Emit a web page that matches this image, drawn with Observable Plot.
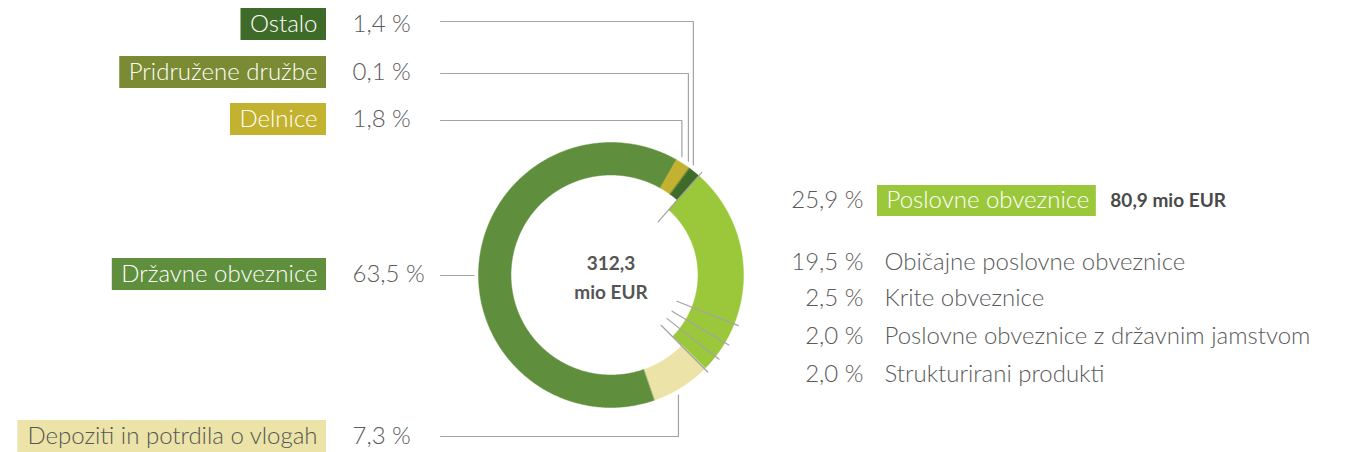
<!DOCTYPE html>
<html>
<head>
<meta charset="utf-8">
<script src="https://cdn.jsdelivr.net/npm/d3@7"></script>
<script src="https://cdn.jsdelivr.net/npm/@observablehq/plot@0.6"></script>
<style>
  html, body { margin: 0; padding: 0; background: #fff; }
  #chart svg { display: block; }
</style>
</head>
<body>
<div id="chart"></div>
<script>
// ---------- DATA ----------
const categories = ["Poslovne obveznice", "Depoziti in potrdila o vlogah", "Državne obveznice", "Delnice", "Pridružene družbe", "Ostalo"];
const shares = [25.9, 7.3, 63.5, 1.8, 0.1, 1.4];
const colors = ["#9bc83b", "#ebe3a7", "#5f8f3d", "#c3b22f", "#7a8b34", "#3f6b28"];
const subCategories = ["Običajne poslovne obveznice", "Krite obveznice", "Poslovne obveznice z državnim jamstvom", "Strukturirani produkti"];
const subShares = [19.5, 2.5, 2.0, 2.0];
const totalLabel = ["312,3", "mio EUR"];
const poslovneAmount = "80,9 mio EUR";

// ---------- LAYOUT ----------
const W = 1347, H = 452;
const cx = 610.5, cy = 274.5, R = 132.5, rIn = 100, rInHighlight = 87;
const startDeg = 41.5;
const FONT = "Lato";
const textGray = "#5a5a5a";
const lineGray = "#a3a3a3";
const leftRows = {
  "Ostalo": 24, "Pridružene družbe": 72, "Delnice": 119,
  "Državne obveznice": 274, "Depoziti in potrdila o vlogah": 436
};
const rightRows = [262, 298, 336, 374];

const fmt = v => v.toFixed(1).replace(".", ",") + " %";
const ctx = document.createElement("canvas").getContext("2d");
const measure = (t, size, weight) => { ctx.font = `${weight} ${size}px ${FONT}`; return ctx.measureText(t).width; };
const rad = d => d * Math.PI / 180;
const pt = (deg, r) => [cx + r * Math.sin(rad(deg)), cy - r * Math.cos(rad(deg))];

// slice angles from the data
const pie = d3.pie().sort(null).value(d => d.share)
  .startAngle(rad(startDeg)).endAngle(rad(startDeg + 360));
const slices = pie(categories.map((c, i) => ({name: c, share: shares[i], color: colors[i]})))
  .map(s => ({...s, a0: s.startAngle * 180 / Math.PI, a1: s.endAngle * 180 / Math.PI}));

// arc polygons
const arcPts = [];
slices.forEach((s, i) => {
  const ri = i === 0 ? rInHighlight : rIn;
  const n = Math.max(4, Math.ceil((s.a1 - s.a0) * 2));
  for (let k = 0; k <= n; k++) { const a = s.a0 + (s.a1 - s.a0) * k / n; const [x, y] = pt(a, R); arcPts.push({slice: s.data.name, color: s.data.color, x, y}); }
  for (let k = n; k >= 0; k--) { const a = s.a0 + (s.a1 - s.a0) * k / n; const [x, y] = pt(a, ri); arcPts.push({slice: s.data.name, color: s.data.color, x, y}); }
});

// radial separators inside Poslovne obveznice
const pos = slices[0];
const degPerPct = (pos.a1 - pos.a0) / pos.data.share;
const sepAngles = [pos.a0];
let cum = 0;
subShares.forEach(v => { cum += v; sepAngles.push(pos.a0 + cum * degPerPct); });
const sepPts = [];
sepAngles.forEach((a, i) => { [71, 137].forEach(r => { const [x, y] = pt(a, r); sepPts.push({id: "s" + i, x, y}); }); });

// leader lines for left labels
const leaderPts = [];
const lx0 = 440;
slices.slice(1).forEach(s => {
  const name = s.data.name, y = leftRows[name] + (name === "Ostalo" ? -3 : 1);
  const mid = (s.a0 + s.a1) / 2;
  const [mx, my] = pt(mid, R);
  if (name === "Državne obveznice") {
    leaderPts.push({id: name, x: lx0, y}, {id: name, x: mx - 5, y});
  } else if (name === "Depoziti in potrdila o vlogah") {
    leaderPts.push({id: name, x: lx0, y: y - 1}, {id: name, x: mx - 3, y: y - 1}, {id: name, x: mx - 3, y: my + 8});
  } else {
    leaderPts.push({id: name, x: lx0, y}, {id: name, x: mx - 1, y}, {id: name, x: mx - 1, y: my - 7});
  }
});

// left labels (boxes + text)
const LS = 24;
const leftLabels = slices.slice(1).map(s => {
  const name = s.data.name, y = leftRows[name];
  const w = measure(name, LS, 300);
  const tx = 317;
  return {name, y, tx, x1: tx - w - 9, x2: 326, color: s.data.color,
          textColor: name.startsWith("Depoziti") ? "#555" : "#fff", pct: fmt(s.data.share)};
});

// right label
const posW = measure(categories[0], LS, 300);
const posBox = {x1: 877, x2: 886 + posW + 7, y: 200};

const subRows = subCategories.map((c, i) => ({name: c, pct: fmt(subShares[i]), y: rightRows[i]}));

const plot = Plot.plot({
  width: W, height: H,
  margin: 0,
  x: {domain: [0, W], range: [0, W], axis: null},
  y: {domain: [0, H], range: [0, H], axis: null},
  style: {fontFamily: FONT, background: "#fff"},
  marks: [
    Plot.line(arcPts, {x: "x", y: "y", z: "slice", fill: "color", stroke: "color", strokeWidth: 0.5, curve: "linear-closed"}),
    Plot.line(sepPts, {x: "x", y: "y", z: "id", stroke: lineGray, strokeWidth: 1.2}),
    Plot.line(leaderPts, {x: "x", y: "y", z: "id", stroke: lineGray, strokeWidth: 1.2}),
    Plot.rect(leftLabels, {x1: "x1", x2: "x2", y1: d => d.y - 16, y2: d => d.y + 16, fill: "color"}),
    Plot.text(leftLabels, {x: "tx", y: "y", text: "name", fill: "textColor", textAnchor: "end", fontSize: LS, fontWeight: 300}),
    Plot.text(leftLabels, {x: 352, y: "y", text: "pct", fill: textGray, textAnchor: "start", fontSize: LS, fontWeight: 300}),
    Plot.rect([posBox], {x1: "x1", x2: "x2", y1: d => d.y - 15, y2: d => d.y + 16, fill: colors[0]}),
    Plot.text([posBox], {x: 886, y: "y", text: () => categories[0], fill: "#fff", textAnchor: "start", fontSize: LS, fontWeight: 300}),
    Plot.text([posBox], {x: 863, y: "y", text: () => fmt(shares[0]), fill: textGray, textAnchor: "end", fontSize: LS, fontWeight: 300}),
    Plot.text([posBox], {x: d => d.x2 + 14, y: "y", text: () => poslovneAmount, fill: "#4a4a4a", textAnchor: "start", fontSize: 19, fontWeight: 700}),
    Plot.text(subRows, {x: 863, y: "y", text: "pct", fill: textGray, textAnchor: "end", fontSize: LS, fontWeight: 300}),
    Plot.text(subRows, {x: 884, y: "y", text: "name", fill: textGray, textAnchor: "start", fontSize: LS, fontWeight: 300}),
    Plot.text(totalLabel, {x: cx, y: (d, i) => i === 0 ? 263 : 292, text: d => d, fill: "#555", fontSize: 19, fontWeight: 700})
  ]
});
document.getElementById("chart").appendChild(plot);
</script>
</body>
</html>
